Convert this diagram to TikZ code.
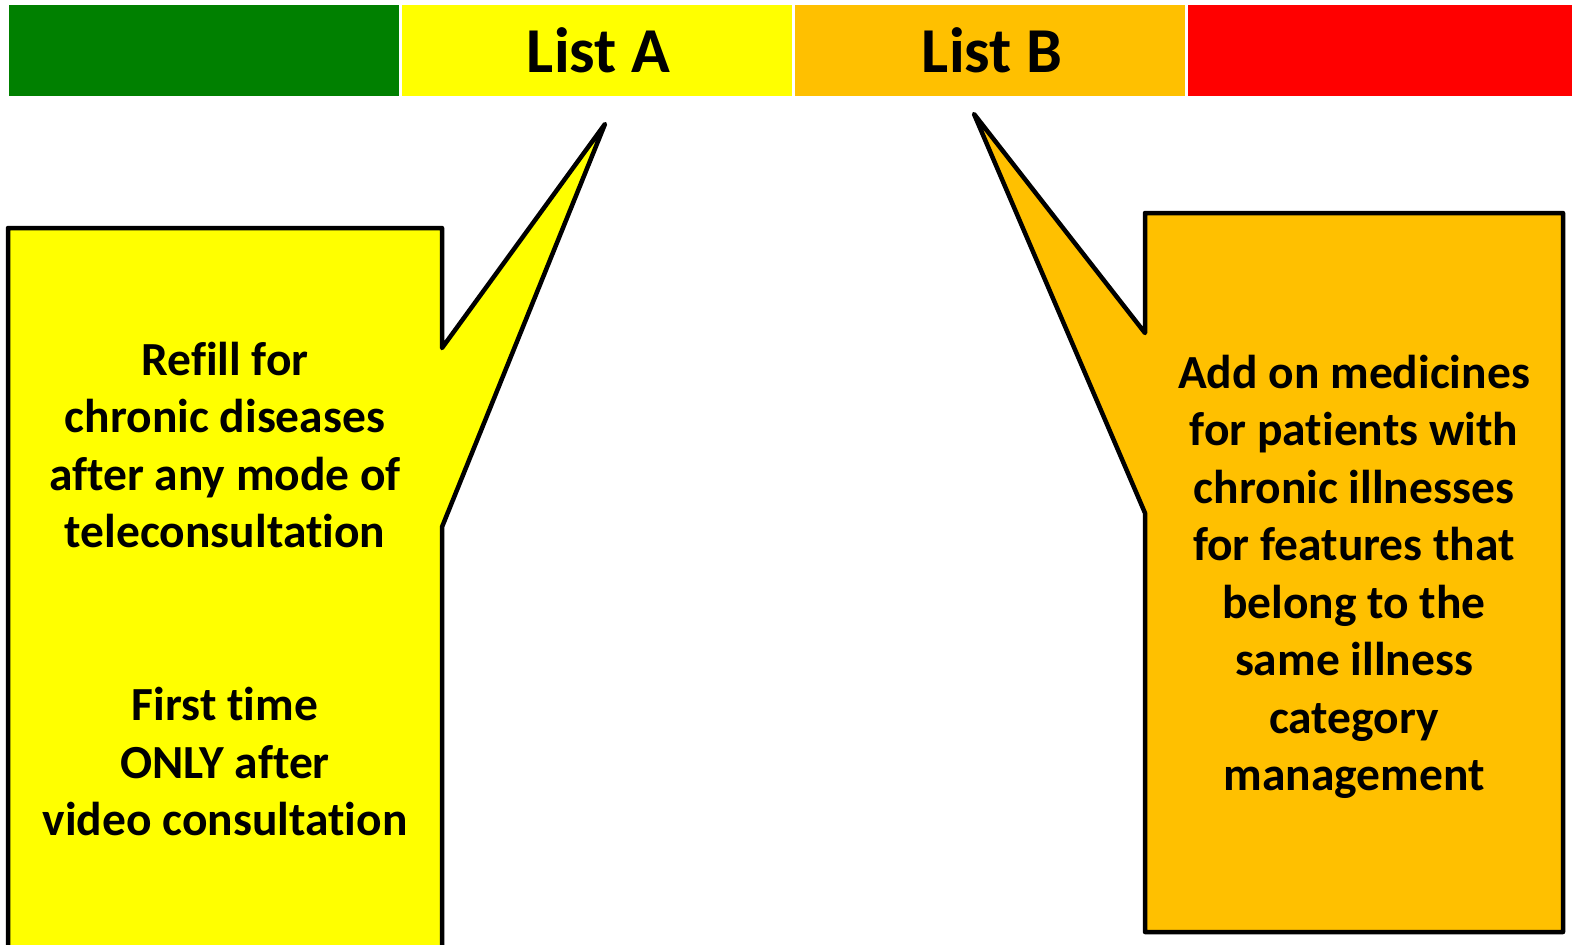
\documentclass[tikz,border=0pt]{standalone}
\usepackage{fontspec}
\setmainfont[Ligatures=NoCommon]{Carlito}
\definecolor{listgreen}{RGB}{0,128,0}
\definecolor{listyellow}{RGB}{255,255,0}
\definecolor{listorange}{RGB}{255,192,0}
\definecolor{listred}{RGB}{255,0,0}
\tikzset{
  bar/.style={minimum width=390pt,minimum height=91pt,inner sep=0pt,font=\bfseries\fontsize{64}{70}\selectfont},
  callout/.style={line width=4.5pt,line join=round,draw=black},
  callouttext/.style={align=center,inner sep=0pt,font=\bfseries\fontsize{47.5}{57.5}\selectfont}
}
\begin{document}
\begin{tikzpicture}[x=1pt,y=-1pt]
\useasboundingbox (0,0) rectangle (1572,945);
\clip (0,0) rectangle (1572,945);
% the four bars
\node [bar,fill=listgreen] (green) at (204,50.5) {};
\node [bar,fill=listyellow] (lista) at (596.5,50.5) {\hspace{4pt}List A};
\node [bar,fill=listorange] (listb) at (990,50.5) {\hspace{4pt}List B};
\node [bar,fill=listred,minimum width=386pt] (red) at (1381,50.5) {};
% callouts
\draw [callout,fill=listyellow] (442,348)--(605,124)--(442,527)--(442,960)--(8,960)--(8,228)--(442,228)--cycle;
\draw [callout,fill=listorange] (1145,213)--(1563,213)--(1563,932)--(1145,932)--(1145,513)--(974,114)--(1145,333)--cycle;
\node [callouttext] (texta) at (225,589) {Refill for\\chronic diseases\\after any mode of\\teleconsultation\\[115.5pt]First time\\ONLY after\\video consultation};
\node [callouttext] (textb) at (1354,577) {Add on medicines\\for patients with\\chronic illnesses\\for features that\\belong to the\\same illness\\category\\management};
\end{tikzpicture}
\end{document}
